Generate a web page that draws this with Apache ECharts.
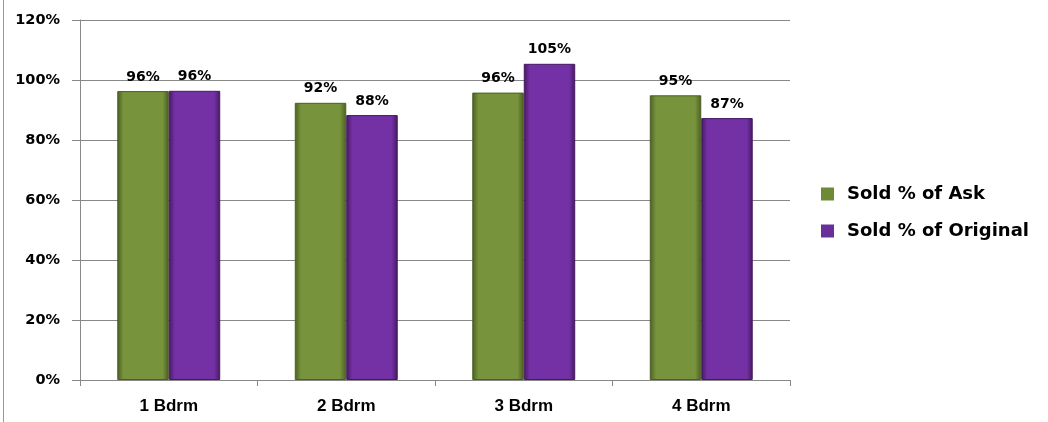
<!DOCTYPE html>
<html><head><meta charset="utf-8">
<script src="https://cdn.jsdelivr.net/npm/echarts@6/dist/echarts.min.js"></script>
<style>html,body{margin:0;padding:0;background:#fff}#c{width:1048px;height:422px}</style>
</head><body><div id="c"></div>
<script>
const categories = ['1 Bdrm', '2 Bdrm', '3 Bdrm', '4 Bdrm'];
const soldOfAsk = [96.3, 92.4, 95.8, 94.9];
const soldOfOriginal = [96.4, 88.3, 105.4, 87.3];
const seriesNames = ['Sold % of Ask', 'Sold % of Original'];

function grad(edge, mid) {
  return new echarts.graphic.LinearGradient(0, 0, 1, 0, [
    {offset: 0, color: edge}, {offset: 0.12, color: mid}, {offset: 0.88, color: mid}, {offset: 1, color: edge}
  ]);
}
const lbl = {show: true, position: 'top', distance: 7, fontFamily: 'DejaVu Sans', fontWeight: 'bold', fontSize: 14, color: '#000',
  formatter: p => Math.round(p.value) + '%'};
const chart = echarts.init(document.getElementById('c'));
chart.setOption({
  animation: false,
  graphic: [{type: 'line', shape: {x1: 3.5, y1: 0, x2: 3.5, y2: 422}, style: {stroke: '#999', lineWidth: 1}}],
  grid: {left: 80, right: 258, top: 20, bottom: 42},
  legend: {
    orient: 'vertical', left: 821, top: 185, padding: 0, itemGap: 19, itemWidth: 13, itemHeight: 13, icon: 'rect',
    textStyle: {fontFamily: 'DejaVu Sans', fontWeight: 'bold', fontSize: 18, color: '#000', padding: [0, 0, 0, 8]},
    data: [{name: seriesNames[0], itemStyle: {color: '#6f8a36', borderWidth: 0}}, {name: seriesNames[1], itemStyle: {color: '#6a2e98', borderWidth: 0}}]
  },
  xAxis: {
    type: 'category', data: categories,
    axisLine: {lineStyle: {color: '#888'}},
    axisTick: {show: true, length: 6, lineStyle: {color: '#888'}},
    axisLabel: {margin: 18, fontFamily: 'Liberation Sans', fontWeight: 'bold', fontSize: 17, color: '#000'}
  },
  yAxis: {
    type: 'value', min: 0, max: 120, interval: 20,
    axisLine: {show: true, lineStyle: {color: '#888'}},
    axisTick: {show: true, length: 8, lineStyle: {color: '#888'}},
    splitLine: {lineStyle: {color: '#888'}},
    axisLabel: {margin: 20, formatter: '{value}%', fontFamily: 'DejaVu Sans', fontWeight: 'bold', fontSize: 14.5, color: '#000'}
  },
  series: [
    {name: seriesNames[0], type: 'bar', data: soldOfAsk, barGap: '0%', barCategoryGap: '42%',
      itemStyle: {color: grad('#4a5e22', '#77933c'), borderColor: '#4a5e22', borderWidth: 1}, label: lbl},
    {name: seriesNames[1], type: 'bar', data: soldOfOriginal,
      itemStyle: {color: grad('#45195f', '#7431a6'), borderColor: '#45195f', borderWidth: 1}, label: lbl}
  ]
});
</script></body></html>
